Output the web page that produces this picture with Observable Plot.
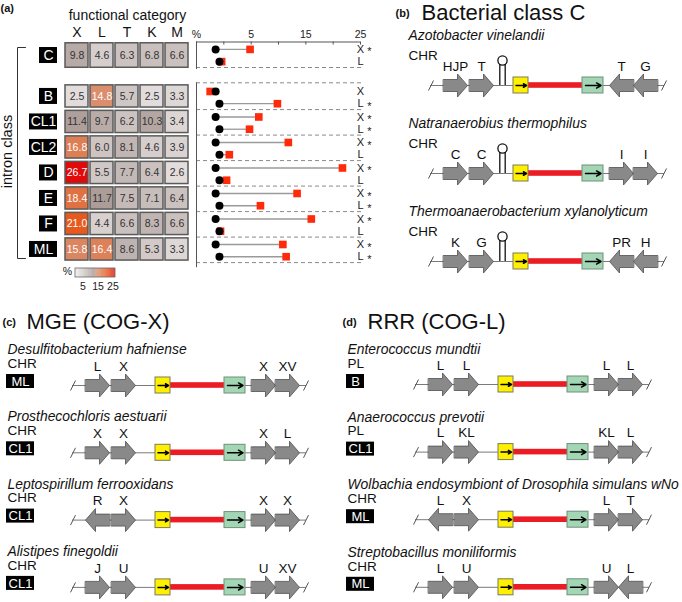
<!DOCTYPE html>
<html><head><meta charset="utf-8">
<script src="https://cdn.jsdelivr.net/npm/d3@7"></script>
<script src="https://cdn.jsdelivr.net/npm/@observablehq/plot@0.6"></script>
<style>
body{margin:0;background:#fff;}
#fig{position:relative;width:682px;height:602px;}
#fig svg{position:absolute;left:0;top:0;}
</style></head><body><div id="fig"></div>
<script>
// ---------- DATA ----------
const categories = ["X","L","T","K","M"];
const intronClasses = ["C","B","CL1","CL2","D","E","F","ML"];
const pctX = [9.8, 2.5, 11.4, 16.8, 26.7, 18.4, 21.0, 15.8];
const pctL = [4.6, 14.8, 9.7, 6.0, 5.5, 11.7, 4.4, 16.4];
const pctT = [6.3, 5.7, 6.2, 8.1, 7.7, 7.5, 6.6, 8.6];
const pctK = [6.8, 2.5, 10.3, 4.6, 6.4, 7.1, 8.3, 5.3];
const pctM = [6.6, 3.3, 3.4, 3.9, 2.6, 6.4, 6.6, 3.3];
const genomeX = 3.5, genomeL = 4.2;           // background frequency (black dots)
const sigX = [true, false, true, true, true, true, true, true];
const sigL = [false, true, true, false, false, true, false, true];
const legendTicks = [5, 15, 25];
const dumbTicks = [0, 5, 10, 15, 20, 25, 30];
const dumbTickLabels = ["%", "", "5", "", "15", "", "25"];

const bSpecies = ["Azotobacter vinelandii", "Natranaerobius thermophilus", "Thermoanaerobacterium xylanolyticum"];
const bReplicon = ["CHR", "CHR", "CHR"];
const bGenes = [["HJP","T","T","G"], ["C","C","I","I"], ["K","G","PR","H"]];
const bStrands = [[1,1,-1,-1], [1,1,1,1], [1,1,-1,-1]];

const cSpecies = ["Desulfitobacterium hafniense", "Prosthecochloris aestuarii", "Leptospirillum ferrooxidans", "Alistipes finegoldii"];
const cReplicon = ["CHR", "CHR", "CHR", "CHR"];
const cClass = ["ML", "CL1", "CL1", "CL1"];
const cGenes = [["L","X","X","XV"], ["X","X","X","L"], ["R","X","X","X"], ["J","U","U","XV"]];
const cStrands = [[1,1,1,1], [1,1,1,1], [-1,1,1,1], [1,1,1,1]];

const dSpecies = ["Enterococcus mundtii", "Anaerococcus prevotii", "Wolbachia endosymbiont of Drosophila simulans wNo", "Streptobacillus moniliformis"];
const dReplicon = ["PL", "PL", "CHR", "CHR"];
const dClass = ["B", "CL1", "ML", "ML"];
const dGenes = [["L","L","L","L"], ["L","KL","KL","L"], ["L","X","L","T"], ["L","U","U","L"]];
const dStrands = [[1,1,1,1], [1,1,1,1], [-1,1,1,1], [1,1,1,-1]];

// ---------- LAYOUT ----------
const FONT = '"Liberation Sans", Arial, Helvetica, sans-serif';
const W = 682, H = 602;
const fig = document.getElementById("fig");
const baseStyle = {fontFamily: FONT, background: "transparent", overflow: "visible"};

const rowPos = intronClasses.map((c, i) => i + (i > 0 ? 0.65 : 0));
const yDomain = [0, 8.65], yRange = [41.5, 262.1];
const rowPx = d3.scaleLinear(yDomain, yRange);
const cellTop = 0.05;
const cellH = intronClasses.map((c, i) => i === 0 ? 0.96 : 0.87);

const colorScale = {
  type: "linear",
  domain: [0, 12, 14.5, 18, 21, 26.7],
  range: ["#f1eeee", "#aa9b97", "#d9906f", "#df7548", "#e65a1e", "#e00a0a"],
  interpolate: "rgb"
};

const cols = [pctX, pctL, pctT, pctK, pctM];
const cells = [];
intronClasses.forEach((cls, i) => cols.forEach((arr, j) => cells.push({
  cls, cat: categories[j], value: arr[i], y1: rowPos[i] + cellTop, y2: rowPos[i] + cellTop + cellH[i]
})));

// ---------- HEATMAP ----------
const heat = Plot.plot({
  width: W, height: H, margin: 0, style: baseStyle,
  x: {type: "band", domain: categories, range: [61.5, 191.5], padding: 0.1, axis: null},
  y: {domain: yDomain, range: yRange, axis: null},
  color: colorScale,
  marks: [
    Plot.barY(cells, {x: "cat", y1: "y1", y2: "y2", fill: "value", stroke: "#5a5a5a", strokeWidth: 1.5}),
    Plot.text(cells.filter(d => d.value < 14), {x: "cat", y: d => (d.y1 + d.y2) / 2, text: d => d.value.toFixed(1), fill: "#333", fontSize: 10.5}),
    Plot.text(cells.filter(d => d.value >= 14), {x: "cat", y: d => (d.y1 + d.y2) / 2, text: d => d.value.toFixed(1), fill: "#fff", fontSize: 10.5}),
    Plot.text(categories, {x: d => d, y: 0, dy: -9, text: d => d, fontSize: 14, fill: "#111"})
  ]
});
fig.appendChild(heat);

// ---------- COLOR LEGEND ----------
const rampStep = 0.3;
const ramp = d3.range(0, 26.7, rampStep);
const legend = Plot.plot({
  width: W, height: H, margin: 0, style: baseStyle,
  x: {domain: [0, 26.7], range: [75, 115], axis: null},
  y: {domain: [0, 1], range: [268, 277], axis: null},
  color: colorScale,
  marks: [
    Plot.rect(ramp, {x1: d => d, x2: d => Math.min(26.7, d + rampStep + 0.05), y1: 0, y2: 1, fill: d => d}),
    Plot.rect([0], {x1: 0, x2: 26.7, y1: 0, y2: 1, fill: "none", stroke: "#666", strokeWidth: 0.8}),
    Plot.text(legendTicks, {x: d => d, y: 1, dy: 9, text: d => String(d), fontSize: 10.5, fill: "#222"}),
    Plot.text(["%"], {x: 0, y: 0.4, dx: -8, text: d => d, fontSize: 10.5, fill: "#222"})
  ]
});
fig.appendChild(legend);

// ---------- DUMBBELL ----------
const dumbRows = [];
intronClasses.forEach((cls, i) => {
  dumbRows.push({cat: "X", y: rowPos[i] + 0.29, bg: genomeX, val: pctX[i], sig: sigX[i]});
  dumbRows.push({cat: "L", y: rowPos[i] + 0.77, bg: genomeL, val: pctL[i], sig: sigL[i]});
});
const separators = [1.0, 1.6, ...rowPos.slice(2), yDomain[1]];
const dumb = Plot.plot({
  width: W, height: H, margin: 0, style: baseStyle,
  x: {domain: [0, 30], range: [196, 360], axis: null},
  y: {domain: yDomain, range: yRange, axis: null},
  marks: [
    Plot.ruleY(separators, {x1: 0, x2: 30.5, stroke: "#8a8a8a", strokeDasharray: "4,3", strokeWidth: 1}),
    Plot.ruleY([0], {x1: 0, x2: 30, stroke: "#555", strokeWidth: 1}),
    Plot.ruleX(dumbTicks, {x: d => d, y1: 0, y2: 0.12, stroke: "#555"}),
    Plot.text(dumbTicks, {x: d => d, y: 0, dy: -7, text: (d, i) => dumbTickLabels[i], fontSize: 10.5, fill: "#222"}),
    Plot.ruleX([0], {y1: 0, y2: 1.08, stroke: "#555"}),
    Plot.ruleX([0], {y1: 1.6, y2: 8.85, stroke: "#555"}),
    Plot.ruleY(dumbRows, {y: "y", x1: "bg", x2: "val", stroke: "#9a9a9a", strokeWidth: 1.3}),
    Plot.dot(dumbRows, {x: "val", y: "y", symbol: "square", r: 4.3, fill: "#ff2a0a", stroke: "none"}),
    Plot.dot(dumbRows, {x: "bg", y: "y", r: 4, fill: "#000", stroke: "none"}),
    Plot.text(dumbRows, {x: 30, y: "y", text: "cat", fontSize: 11, fill: "#222"}),
    Plot.text(dumbRows.filter(d => d.sig), {x: 30, y: "y", dx: 9, dy: 2.5, text: () => "*", fontSize: 11, fill: "#222"})
  ]
});
fig.appendChild(dumb);

// ---------- OVERLAY (labels, gene diagrams) ----------
const texts = [];
const boldTexts = [];
const italicTexts = [];
const boxes = [];
const boxTexts = [];
boldTexts.push({x: 0, y: 8, text: "(a)", size: 11});
texts.push({x: 127, y: 15, text: "functional category", size: 14, anchor: "middle"});
const rotTexts = [{x: 7, y: 151, text: "intron class"}];
intronClasses.forEach((cls, i) => {
  const w = cls.length > 1 ? 28 : 18;
  const cy = rowPx(rowPos[i] + cellTop + cellH[i] / 2);
  boxes.push({x1: 57 - w, x2: 57, y1: cy - 8, y2: cy + 8});
  boxTexts.push({x: 57 - w / 2, y: cy, text: cls, size: 14});
});
const bracket = [{x: 25, y: 47}, {x: 17, y: 47}, {x: 17, y: 258}, {x: 25, y: 258}];

boldTexts.push({x: 395, y: 13, text: "(b)", size: 11});
texts.push({x: 421, y: 12, text: "Bacterial class C", size: 22, anchor: "start"});
boldTexts.push({x: 2, y: 322, text: "(c)", size: 11});
texts.push({x: 26, y: 321, text: "MGE (COG-X)", size: 22, anchor: "start"});
boldTexts.push({x: 342, y: 322, text: "(d)", size: 11});
texts.push({x: 367, y: 321, text: "RRR (COG-L)", size: 22, anchor: "start"});

const panels = [
  {species: bSpecies, replicon: bReplicon, klass: null, genes: bGenes, strands: bStrands, stemloop: true,
   x0: 428, textX: 408, y0: 85, pitch: 88, spDy: -50, repDy: -30, boxDy: 0},
  {species: cSpecies, replicon: cReplicon, klass: cClass, genes: cGenes, strands: cStrands, stemloop: false,
   x0: 70, textX: 7, y0: 385, pitch: 67.3, spDy: -36, repDy: -22, boxDy: -4},
  {species: dSpecies, replicon: dReplicon, klass: dClass, genes: dGenes, strands: dStrands, stemloop: false,
   x0: 413, textX: 347, y0: 384, pitch: 67.6, spDy: -35, repDy: -21, boxDy: -3}
];
const geneOffsets = [15, 41, 181, 205], geneLen = 24;
const tracks = [], genePts = [], geneLabels = [], stems = [], loops = [];
let gid = 0;
panels.forEach(p => {
  p.species.forEach((sp, i) => {
    const y = p.y0 + p.pitch * i, x0 = p.x0;
    tracks.push({x0, y});
    italicTexts.push({x: p.textX, y: y + p.spDy, text: sp, size: 13.9});
    texts.push({x: p.textX, y: y + p.repDy, text: p.replicon[i], size: 13.5, anchor: "start"});
    if (p.klass) {
      const k = p.klass[i], w = k.length > 1 ? 28 : 18, cy = y + p.boxDy;
      boxes.push({x1: p.textX - 1, x2: p.textX - 1 + w, y1: cy - 7, y2: cy + 7});
      boxTexts.push({x: p.textX - 1 + w / 2, y: cy, text: k, size: 13});
    }
    if (p.stemloop) {
      stems.push({x: x0 + 71.3, y1: y - 21, y2: y});
      stems.push({x: x0 + 76.7, y1: y - 21, y2: y});
      loops.push({x: x0 + 74, y: y - 25});
    }
    p.genes[i].forEach((g, j) => {
      const a = x0 + geneOffsets[j], s = p.strands[i][j];
      const tail = s > 0 ? a : a + geneLen, tip = s > 0 ? a + geneLen : a, neck = tip - s * 10;
      const poly = [[tail, y - 6], [neck, y - 6], [neck, y - 11.5], [tip, y], [neck, y + 11.5], [neck, y + 6], [tail, y + 6]];
      poly.forEach(([px, py]) => genePts.push({id: gid, x: px, y: py}));
      gid++;
      geneLabels.push({x: a + geneLen / 2, y: y - 19, text: g});
    });
  });
});

const overlay = Plot.plot({
  width: W, height: H, margin: 0, style: baseStyle,
  x: {type: "identity", axis: null},
  y: {type: "identity", axis: null},
  marks: [
    Plot.line(bracket, {x: "x", y: "y", stroke: "#333", strokeWidth: 1, strokeLinejoin: "miter"}),
    Plot.ruleY(tracks, {y: "y", x1: d => d.x0 + 2, x2: d => d.x0 + 236, stroke: "#7a7a7a", strokeWidth: 1}),
    Plot.link(tracks, {x1: d => d.x0, y1: d => d.y + 5, x2: d => d.x0 + 5, y2: d => d.y - 5, stroke: "#555", strokeWidth: 1}),
    Plot.link(tracks, {x1: d => d.x0 + 233, y1: d => d.y + 5, x2: d => d.x0 + 238, y2: d => d.y - 5, stroke: "#555", strokeWidth: 1}),
    Plot.ruleX(stems, {x: "x", y1: "y1", y2: "y2", stroke: "#111", strokeWidth: 1.3}),
    Plot.dot(loops, {x: "x", y: "y", r: 4.6, fill: "none", stroke: "#111", strokeWidth: 1.3}),
    Plot.rect(tracks, {x1: d => d.x0 + 100, x2: d => d.x0 + 154, y1: d => d.y - 2.8, y2: d => d.y + 2.8, fill: "#ec1c24"}),
    Plot.rect(tracks, {x1: d => d.x0 + 85, x2: d => d.x0 + 100, y1: d => d.y - 8, y2: d => d.y + 8, fill: "#fff000", stroke: "#7a7a5a", strokeWidth: 1}),
    Plot.rect(tracks, {x1: d => d.x0 + 154, x2: d => d.x0 + 175, y1: d => d.y - 8, y2: d => d.y + 8, fill: "#a3d6b4", stroke: "#6f8f7a", strokeWidth: 1}),
    Plot.arrow(tracks, {x1: d => d.x0 + 87.5, y1: d => d.y, x2: d => d.x0 + 98, y2: d => d.y, stroke: "#000", strokeWidth: 1.5, headLength: 6}),
    Plot.arrow(tracks, {x1: d => d.x0 + 157, y1: d => d.y, x2: d => d.x0 + 172.5, y2: d => d.y, stroke: "#000", strokeWidth: 1.5, headLength: 6}),
    Plot.line(genePts, {x: "x", y: "y", z: "id", curve: "linear-closed", fill: "#898989", stroke: "#4f4f4f", strokeWidth: 0.8, strokeLinejoin: "miter"}),
    Plot.text(geneLabels, {x: "x", y: "y", text: "text", fontSize: 13.5, fill: "#111"}),
    Plot.rect(boxes, {x1: "x1", x2: "x2", y1: "y1", y2: "y2", fill: "#000"}),
    Plot.text(boxTexts, {x: "x", y: "y", text: "text", fontSize: d => d.size, fill: "#fff"}),
    Plot.text(texts.filter(d => d.anchor === "middle"), {x: "x", y: "y", text: "text", fontSize: d => d.size, fill: "#111"}),
    Plot.text(texts.filter(d => d.anchor !== "middle"), {x: "x", y: "y", text: "text", fontSize: d => d.size, fill: "#111", textAnchor: "start"}),
    Plot.text(boldTexts, {x: "x", y: "y", text: "text", fontSize: d => d.size, fill: "#111", textAnchor: "start", fontWeight: "bold"}),
    Plot.text(italicTexts, {x: "x", y: "y", text: "text", fontSize: d => d.size, fill: "#111", textAnchor: "start", fontStyle: "italic"}),
    Plot.text(rotTexts, {x: "x", y: "y", text: "text", fontSize: 14.5, fill: "#111", rotate: -90})
  ]
});
fig.appendChild(overlay);
</script>
</body></html>
